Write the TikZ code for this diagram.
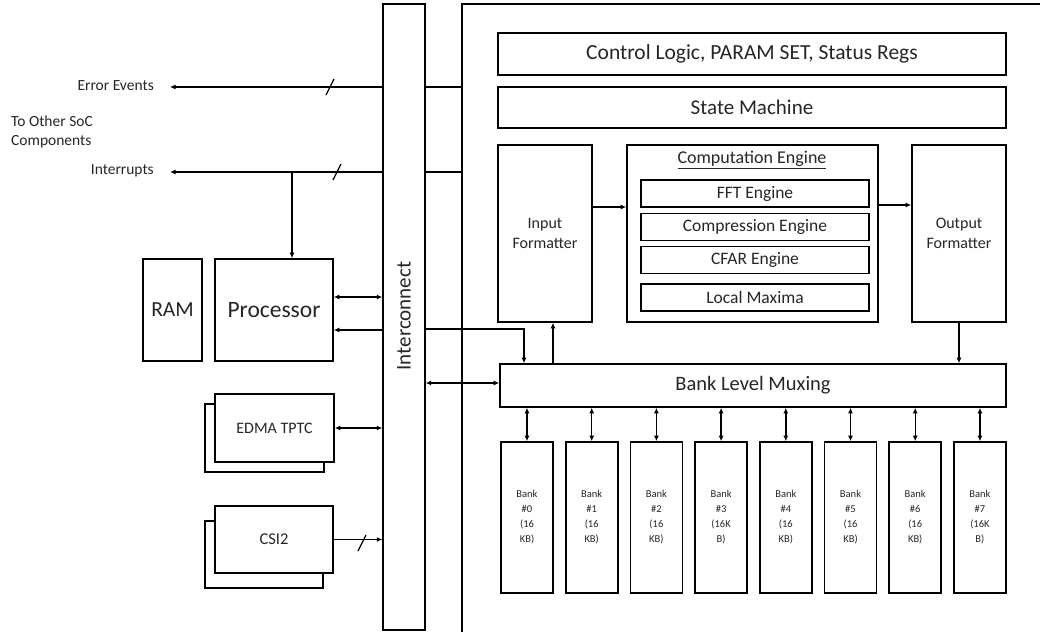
\documentclass[tikz,border=0pt]{standalone}
\usepackage{fontspec}
\setmainfont{Carlito}
\usetikzlibrary{arrows.meta}

\begin{document}
\begin{tikzpicture}[x=1pt, y={(0pt,-1pt)},
    blk/.style={draw, line width=1.6pt, fill=white, align=center, inner sep=1pt, text=black!85},
    wire/.style={line width=1.4pt},
    tip/.style={-{Latex[length=5.5pt,width=5pt]}},
    dtip/.style={{Latex[length=5.5pt,width=5pt]}-{Latex[length=5.5pt,width=5pt]}},
    lbl/.style={inner sep=0pt, text=black!85, font=\fontsize{15.5}{19}\selectfont},
    bank/.style={blk, minimum width=52pt, minimum height=151pt, font=\fontsize{10.5}{15}\selectfont}]
    \useasboundingbox (0,0) rectangle (1040,632);

    % HWA border, only top and left edge inside the page
    \coordinate (hwaTL) at (462,4);
    \draw[line width=2.4pt] (1040,4) -| (462,632);

    %% blocks inside the accelerator
    \node[blk, minimum width=508pt, minimum height=42pt, font=\fontsize{21.5}{24}\selectfont] (ctrl) at (752,54) {Control Logic, PARAM SET, Status Regs};
    \node[blk, minimum width=508pt, minimum height=41pt, font=\fontsize{21}{24}\selectfont] (sm) at (752,107.5) {State Machine};
    \node[blk, minimum width=94pt, minimum height=177pt, font=\fontsize{16}{19.5}\selectfont] (infmt) at (545,233.5) {Input\\Formatter};
    \node[blk, minimum width=251pt, minimum height=177pt] (comp) at (752.5,233.5) {};
    \node[blk, minimum width=94pt, minimum height=177pt, font=\fontsize{16}{19.5}\selectfont] (outfmt) at (959,233.5) {Output\\Formatter};
    \node[lbl, font=\fontsize{18}{20}\selectfont] (compTitle) at (752,160) {\underline{Computation Engine}};
    \foreach \n/\t/\yy in {fft/FFT Engine/193.5, compr/Compression Engine/227, cfar/CFAR Engine/260, lmax/Local Maxima/297.5}
    {
        \node[blk, minimum width=228pt, minimum height=27pt, font=\fontsize{17.5}{19}\selectfont] (\n) at (755,\yy) {\t};
    }
    \node[blk, minimum width=506pt, minimum height=43pt, font=\fontsize{20.5}{23}\selectfont] (mux) at (753,385.5) {Bank Level Muxing};

    %% memory banks
    \foreach \i/\sz in {0/{(16\\KB)}, 1/{(16\\KB)}, 2/{(16\\KB)}, 3/{(16K\\B)},
        4/{(16\\KB)}, 5/{(16\\KB)}, 6/{(16\\KB)}, 7/{(16K\\B)}}
    {
        \node[bank] (bank\i) at (527+64.7*\i,517.5) {Bank\\\#\i\\\sz};
        \draw[wire, dtip] (bank\i.north) -- (bank\i.north |- mux.south);
    }

    %% interconnect and the left side
    \node[blk, line width=1.4pt, minimum width=42pt, minimum height=626pt] (ic) at (404,317) {};
    \node[rotate=90, text=black!85, font=\fontsize{21}{24}\selectfont] (icText) at (404,316) {Interconnect};
    \node[blk, minimum width=59pt, minimum height=102pt, font=\fontsize{21.5}{24}\selectfont] (ram) at (172.5,310) {RAM};
    \node[blk, minimum width=118pt, minimum height=102pt, font=\fontsize{23.5}{26}\selectfont] (proc) at (274,310) {Processor};
    \node[blk, minimum width=119pt, minimum height=68pt] (edmaBack) at (264.5,438) {};
    \node[blk, minimum width=119pt, minimum height=68pt, font=\fontsize{16}{19}\selectfont] (edma) at (274.5,428) {EDMA TPTC};
    \node[blk, minimum width=118pt, minimum height=67pt] (csiBack) at (264,554.5) {};
    \node[blk, minimum width=118pt, minimum height=67pt, font=\fontsize{16.5}{19}\selectfont] (csi) at (274,539.5) {CSI2};

    \node[lbl, anchor=east] (errLbl) at (154,86) {Error Events};
    \node[lbl, anchor=east] (intLbl) at (154,171) {Interrupts};
    \node[lbl, anchor=north west, align=left] (socLbl) at (11,116) {To Other SoC\\Components};

    %% connectors
    \coordinate (errEnd) at (170,87);
    \coordinate (intEnd) at (170,172);
    \coordinate (intBr) at (292,172);
    \draw[wire, tip] (ic.west |- errEnd) -- (errEnd);
    \draw[wire] (ic.east |- errEnd) -- (hwaTL |- errEnd);
    \draw[wire, tip] (ic.west |- intEnd) -- (intEnd);
    \draw[wire] (ic.east |- intEnd) -- (hwaTL |- intEnd);
    \draw[wire, tip] (intBr) -- (intBr |- proc.north);

    \coordinate (p1) at (333,297);
    \coordinate (p2) at (333,330);
    \draw[wire, dtip] (p1 -| proc.east) -- (p1 -| ic.west);
    \draw[wire, tip] (p2 -| ic.west) -- (p2 -| proc.east);
    \draw[wire, dtip] (edma.east) -- (edma.east -| ic.west);
    \draw[wire, tip] (csi.east) -- (csi.east -| ic.west);

    \coordinate (muxTap) at (524,329);
    \coordinate (muxSide) at (500,383);
    \draw[wire, tip] (ic.east |- muxTap) -| (mux.north -| muxTap);
    \draw[wire, dtip] (ic.east |- muxSide) -- (mux.west |- muxSide);
    \coordinate (infTap) at (553,343);
    \draw[wire, tip] (mux.north -| infTap) -- (infmt.south -| infTap);
    \draw[wire, tip] (outfmt.south) -- (outfmt.south |- mux.north);
    \coordinate (c1) at (600,207);
    \coordinate (c2) at (900,205);
    \draw[wire, tip] (infmt.east |- c1) -- (comp.west |- c1);
    \draw[wire, tip] (comp.east |- c2) -- (outfmt.west |- c2);

    % bus marks on the wide links
    \foreach \sx/\sy in {330/87, 337/172, 362/543}
        \draw[line width=1.2pt] (\sx-4,\sy+8) -- (\sx+4,\sy-8);
\end{tikzpicture}
\end{document}
